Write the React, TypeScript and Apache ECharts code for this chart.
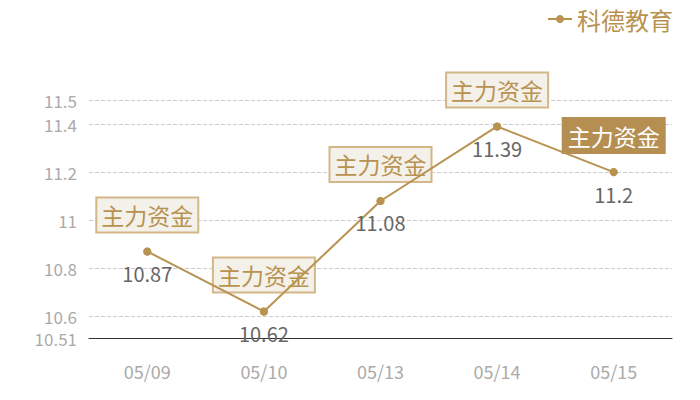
import React, { useEffect, useRef } from 'react';
import * as echarts from 'echarts';

const dates = ['05/09', '05/10', '05/13', '05/14', '05/15'];
const prices = [10.87, 10.62, 11.08, 11.39, 11.2];
const tagText = '主力资金';

const gold = '#b8924f';
const font = '"Noto Sans CJK SC", "Microsoft YaHei", sans-serif';

const App: React.FC = () => {
  const chartRef = useRef<HTMLDivElement>(null);

  useEffect(() => {
    if (!chartRef.current) return;
    const myChart = echarts.init(chartRef.current, null, { renderer: 'svg' });

    const option = {
      animation: false,
      textStyle: { fontFamily: font },
      legend: {
        data: ['科德教育'],
        right: 22,
        top: 2,
        itemWidth: 24,
        itemHeight: 10,
        itemGap: 4,
        textStyle: { color: gold, fontSize: 24, fontFamily: font }
      },
      grid: { left: 89, right: 28, top: 100, bottom: 62 },
      xAxis: {
        type: 'category',
        data: dates,
        axisLine: { lineStyle: { color: '#333' } },
        axisTick: { show: false },
        axisLabel: { color: '#aaa', fontSize: 18, margin: 24 }
      },
      yAxis: {
        type: 'value',
        min: 10.51,
        max: 11.5,
        splitNumber: 5,
        axisLine: { show: false },
        axisTick: { show: false },
        axisLabel: { color: '#aaa', fontSize: 17, margin: 12 },
        splitLine: { lineStyle: { color: '#ccc', type: 'dashed' } }
      },
      series: [
        {
          name: '科德教育',
          type: 'line',
          data: prices,
          symbol: 'circle',
          symbolSize: 8,
          itemStyle: { color: gold },
          lineStyle: { color: gold, width: 2 },
          label: {
            show: true,
            position: 'bottom',
            distance: 8,
            color: '#666',
            fontSize: 20
          },
          z: 3
        },
        {
          name: tagText,
          type: 'scatter',
          data: prices.map((v, i) =>
            i === prices.length - 1
              ? {
                  value: v,
                  label: {
                    backgroundColor: '#b58f52',
                    borderColor: '#b58f52',
                    color: '#fff'
                  }
                }
              : v
          ),
          symbol: 'circle',
          symbolSize: 8,
          itemStyle: { color: gold, opacity: 1 },
          label: {
            show: true,
            position: 'top',
            distance: 16,
            formatter: tagText,
            color: gold,
            fontSize: 23,
            opacity: 1,
            backgroundColor: '#f4f0ea',
            borderColor: '#d3b787',
            borderWidth: 2,
            padding: [5, 4, 5, 4]
          },
          z: 2
        }
      ]
    };

    myChart.setOption(option);
    return () => {
      myChart.dispose();
    };
  }, []);

  return (
    <div
      ref={chartRef}
      style={{ position: 'absolute', left: 0, top: 0, width: 700, height: 400 }}
    ></div>
  );
};

export default App;
